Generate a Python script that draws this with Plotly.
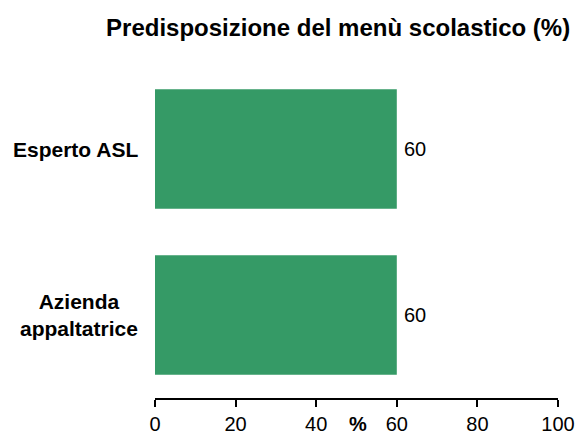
import plotly.graph_objects as go

categories = ["Esperto ASL", "Azienda<br>appaltatrice"]
values = [60, 60]
tick_vals = [0, 20, 40, 60, 80, 100]
title_text = "Predisposizione del menù scolastico (%)"
axis_label = "%"
bar_color = "#359a66"

FONT = "Liberation Sans"

fig = go.Figure()
fig.add_trace(go.Bar(
    y=categories, x=values, orientation="h",
    marker=dict(color=bar_color, line=dict(width=0)),
    width=0.72,
    hoverinfo="x+y",
))

for c, v in zip(categories, values):
    fig.add_annotation(
        x=0, xref="paper", xanchor="right", xshift=-15,
        y=c, yref="y", yanchor="middle",
        text="<b>" + c + "</b>", showarrow=False, align="center",
        font=dict(family=FONT, size=21, color="#000"),
    )
    fig.add_annotation(
        x=v, xref="x", xanchor="left", xshift=5,
        y=c, yref="y", yanchor="middle",
        text=str(v), showarrow=False,
        font=dict(family=FONT, size=20, color="#000"),
    )

fig.add_annotation(
    x=50.4, xref="x", y=0, yref="paper", yanchor="top", yshift=-13,
    text="<b>" + axis_label + "</b>", showarrow=False,
    font=dict(family=FONT, size=20, color="#000"),
)

fig.update_layout(
    width=578, height=436,
    margin=dict(l=155, r=20, t=66, b=38, autoexpand=False),
    paper_bgcolor="white", plot_bgcolor="white",
    showlegend=False,
    title=dict(text="<b>" + title_text + "</b>", x=0.585, xanchor="center",
               y=0.937, yanchor="middle",
               font=dict(family=FONT, size=24, color="#000")),
    xaxis=dict(range=[0, 100], tickvals=tick_vals, showgrid=False, zeroline=False,
               showline=True, linecolor="#000", linewidth=2, automargin=False,
               ticks="outside", ticklen=7, tickwidth=2, tickcolor="#000",
               tickfont=dict(family=FONT, size=20, color="#000")),
    yaxis=dict(categoryorder="array", categoryarray=categories[::-1],
               range=[-0.5, 1.5], showticklabels=False, showgrid=False,
               automargin=False,
               zeroline=False, showline=False, ticks=""),
)

fig.write_html("out.html", config={"displayModeBar": False},
               post_script="document.body.style.margin='0';document.body.style.overflow='hidden';")
